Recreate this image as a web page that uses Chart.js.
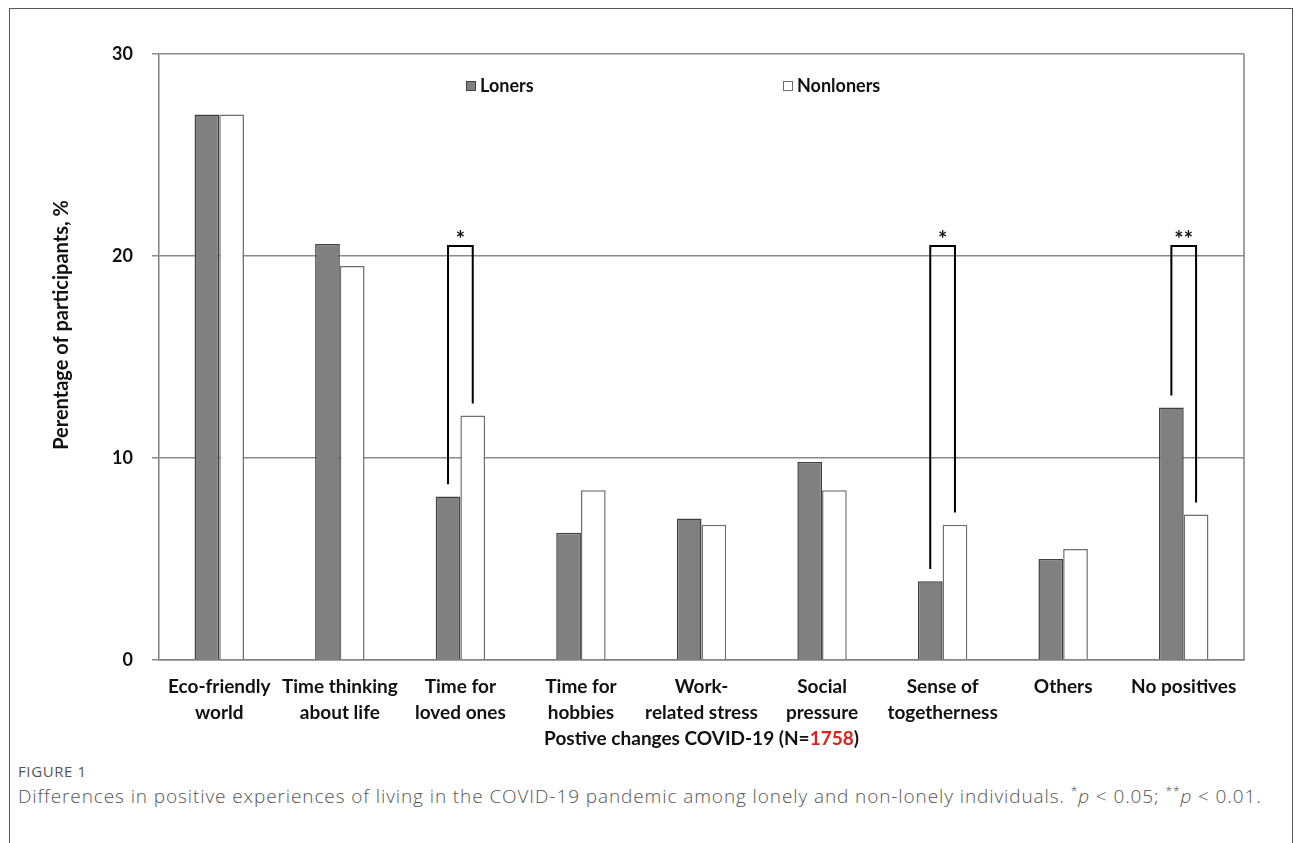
<!DOCTYPE html>
<html>
<head>
<meta charset="utf-8">
<script src="https://cdn.jsdelivr.net/npm/chart.js@4.4.1/dist/chart.umd.min.js"></script>
<style>
body { margin: 0; background: #fff; width: 1295px; height: 843px; overflow: hidden; position: relative; font-family: "Open Sans", sans-serif; }
#frame { position: absolute; left: 9px; top: 8px; width: 1282px; height: 900px; border: 1.5px solid #555; border-bottom: none; }
#wrap { position: absolute; left: 10px; top: 9px; width: 1282px; height: 745px; }
#fig { position: absolute; left: 18px; top: 761px; font-size: 15px; letter-spacing: 0.6px; color: #555; }
#cap { position: absolute; left: 18px; top: 779px; font-size: 19px; letter-spacing: 0.9px; line-height: 26px; color: #555; font-weight: 300; white-space: nowrap; }
#cap sup { font-size: 12px; }
</style>
</head>
<body>
<div id="frame"></div>
<div id="wrap"><canvas id="myChart"></canvas></div>
<div id="fig">FIGURE 1</div>
<div id="cap">Differences in positive experiences of living in the COVID-19 pandemic among lonely and non-lonely individuals. <sup>*</sup><i>p</i> &lt; 0.05; <sup>**</sup><i>p</i> &lt; 0.01.</div>
<script>
// chart data
var categories = [
    ["Eco-friendly", "world"],
    ["Time thinking", "about life"],
    ["Time for", "loved ones"],
    ["Time for", "hobbies"],
    ["Work-", "related stress"],
    ["Social", "pressure"],
    ["Sense of", "togetherness"],
    ["Others"],
    ["No positives"]
];
var loners = [27.0, 20.6, 8.1, 6.3, 7.0, 9.8, 3.9, 5.0, 12.5];
var nonloners = [27.0, 19.5, 12.1, 8.4, 6.7, 8.4, 6.7, 5.5, 7.2];
var yTicks = [0, 10, 20, 30];

// significance brackets
var sigIndex = [2, 6, 8];
var sigMarks = ["*", "*", "**"];
var bracketTop = 20.5;
var bracketGap = 0.6;

var xTitle = "Postive changes COVID-19 (N=";
var xTitleN = "1758";
var yTitle = "Perentage of participants, %";

var boldFont = "Lato, 'Open Sans', sans-serif";

// plot border, legend, brackets, axis titles
var extras = {
    id: 'extras',
    afterDatasetsDraw: function (chart) {
        var ctx = chart.ctx;
        var area = chart.chartArea;
        var y = chart.scales.y;

        ctx.save();
        // right border of plot area
        ctx.strokeStyle = '#808080';
        ctx.lineWidth = 1.5;
        ctx.beginPath();
        ctx.moveTo(area.right, area.top);
        ctx.lineTo(area.right, area.bottom);
        ctx.stroke();

        // brackets
        var m0 = chart.getDatasetMeta(0);
        var m1 = chart.getDatasetMeta(1);
        ctx.strokeStyle = '#000';
        ctx.lineWidth = 2;
        ctx.fillStyle = '#111';
        ctx.font = "bold 22px " + boldFont;
        ctx.textAlign = 'center';
        ctx.textBaseline = 'alphabetic';
        for (var k = 0; k < sigIndex.length; k++) {
            var i = sigIndex[k];
            var x0 = m0.data[i].x;
            var x1 = m1.data[i].x;
            var top = y.getPixelForValue(bracketTop);
            ctx.beginPath();
            ctx.moveTo(x0, y.getPixelForValue(loners[i] + bracketGap));
            ctx.lineTo(x0, top);
            ctx.lineTo(x1, top);
            ctx.lineTo(x1, y.getPixelForValue(nonloners[i] + bracketGap));
            ctx.stroke();
            ctx.fillText(sigMarks[k], (x0 + x1) / 2, top + 1);
        }

        // legend
        var ds = chart.data.datasets;
        var lx = [456, 773];
        ctx.font = "bold 18px " + boldFont;
        ctx.textAlign = 'left';
        ctx.textBaseline = 'middle';
        for (var d = 0; d < ds.length; d++) {
            ctx.fillStyle = ds[d].backgroundColor;
            ctx.fillRect(lx[d], 72, 10, 10);
            ctx.strokeStyle = ds[d].borderColor;
            ctx.lineWidth = 1;
            ctx.strokeRect(lx[d] + 0.5, 72.5, 9, 9);
            ctx.fillStyle = '#111';
            ctx.fillText(ds[d].label, lx[d] + 14, 77);
        }

        // x title with red N
        ctx.font = "bold 19px " + boldFont;
        var w1 = ctx.measureText(xTitle).width;
        var w2 = ctx.measureText(xTitleN).width;
        var w3 = ctx.measureText(")").width;
        var sx = (area.left + area.right) / 2 - (w1 + w2 + w3) / 2;
        var ty = 730;
        ctx.fillStyle = '#111';
        ctx.fillText(xTitle, sx, ty);
        ctx.fillStyle = '#e0201b';
        ctx.fillText(xTitleN, sx + w1, ty);
        ctx.fillStyle = '#111';
        ctx.fillText(")", sx + w1 + w2, ty);

        // y title
        ctx.translate(52, 316);
        ctx.rotate(-Math.PI / 2);
        ctx.textAlign = 'center';
        ctx.font = "bold 20px " + boldFont;
        ctx.fillText(yTitle, 0, 0);
        ctx.restore();
    }
};

var ctx = document.getElementById('myChart').getContext('2d');
var myChart = new Chart(ctx, {
    type: 'bar',
    data: {
        labels: categories,
        datasets: [{
            label: 'Loners',
            data: loners,
            backgroundColor: '#808080',
            borderColor: '#404040',
            borderWidth: 1.5,
            borderSkipped: 'bottom'
        }, {
            label: 'Nonloners',
            data: nonloners,
            backgroundColor: '#ffffff',
            borderColor: '#6e6e6e',
            borderWidth: 1.5,
            borderSkipped: 'bottom'
        }]
    },
    options: {
        responsive: true,
        maintainAspectRatio: false,
        animation: false,
        categoryPercentage: 0.41,
        barPercentage: 1.0,
        layout: { padding: { top: 45, right: 48, left: 0, bottom: 0 } },
        plugins: {
            legend: { display: false },
            tooltip: { enabled: false }
        },
        scales: {
            x: {
                grid: { display: false, drawTicks: false },
                border: { display: true, color: '#808080', width: 1.5 },
                ticks: {
                    color: '#111',
                    padding: 14,
                    maxRotation: 0,
                    autoSkip: false,
                    font: { family: boldFont, size: 19, weight: 'bold', lineHeight: 1.37 }
                },
                afterFit: function (scale) { scale.height = 94; }
            },
            y: {
                min: 0,
                max: 30,
                afterBuildTicks: function (scale) {
                    scale.ticks = yTicks.map(function (v) { return { value: v }; });
                },
                grid: { color: '#8a8a8a', lineWidth: 1.5, tickLength: 7 },
                border: { display: true, color: '#808080', width: 1.5 },
                ticks: {
                    color: '#111',
                    padding: 19,
                    font: { family: boldFont, size: 18, weight: 'bold' }
                },
                afterFit: function (scale) { scale.width = 149; }
            }
        }
    },
    plugins: [extras]
});
</script>
</body>
</html>
